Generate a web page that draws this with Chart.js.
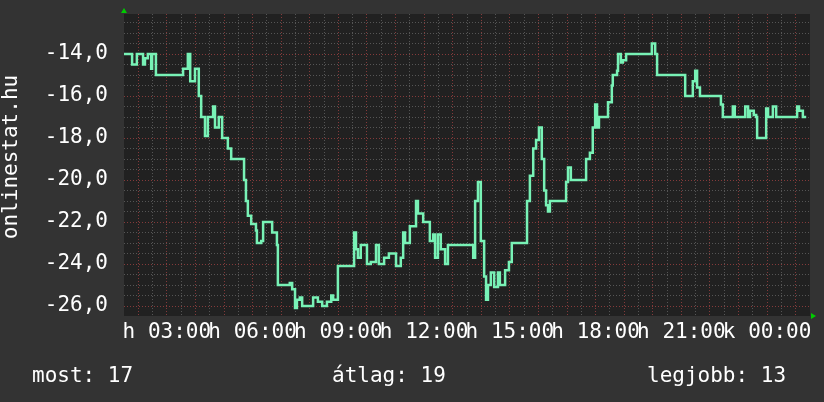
<!DOCTYPE html>
<html>
<head>
<meta charset="utf-8">
<script src="https://cdn.jsdelivr.net/npm/chart.js@4/dist/chart.umd.min.js"></script>
<style>
  html, body { margin: 0; padding: 0; background: #333333; }
  canvas { display: block; }
</style>
</head>
<body>
<canvas id="temp" width="824" height="402"></canvas>
<script>
// adatok: idő (perc az első nap éjfélétől) és hőmérséklet
const times = [90, 107, 117, 130, 134, 140, 147, 149, 157, 214, 224, 229, 239, 247, 252, 260, 266, 277, 281, 289,
  296, 308, 315, 342, 346, 350, 357, 367, 369, 378, 382, 401, 411, 413, 438, 443, 449, 453, 459, 464,
  487, 497, 506, 516, 525, 529, 539, 573, 577, 581, 587, 600, 608, 619, 625, 636, 646, 661, 671, 676,
  680, 690, 703, 707, 718, 732, 739, 743, 749, 755, 764, 770, 823, 827, 833, 839, 846, 850, 854, 860,
  867, 875, 879, 890, 898, 904, 936, 942, 949, 955, 961, 967, 972, 976, 980, 984, 1018, 1022, 1028, 1060,
  1068, 1074, 1079, 1083, 1087, 1106, 1114, 1116, 1125, 1127, 1133, 1137, 1144, 1198, 1205, 1209, 1268, 1284, 1289, 1293,
  1299, 1343, 1347, 1368, 1372, 1394, 1400, 1404, 1412, 1417, 1419, 1438, 1442, 1452, 1459, 1503, 1507, 1515, 1522];
const temps = [-14.0, -14.5, -14.0, -14.5, -14.2, -14.0, -14.7, -14.0, -15.0, -14.7, -14.0, -15.3, -14.7, -16.0, -17.0, -17.9, -17.0, -16.5, -17.5, -17.0,
  -18.0, -18.5, -19.0, -20.0, -21.0, -21.7, -22.1, -22.4, -23.0, -22.9, -22.0, -22.5, -23.1, -25.0, -24.9, -25.2, -26.1, -25.7, -25.6, -26.0,
  -25.6, -25.8, -26.0, -25.8, -25.5, -25.7, -24.1, -22.5, -23.3, -23.7, -23.1, -24.0, -23.9, -23.1, -24.0, -23.7, -23.5, -24.1, -23.7, -22.5,
  -23.0, -22.2, -21.0, -21.6, -22.0, -22.9, -22.6, -23.7, -22.6, -23.3, -24.0, -23.1, -23.7, -21.0, -20.1, -22.9, -24.6, -25.7, -25.0, -24.4,
  -25.1, -24.4, -25.0, -24.3, -23.9, -23.0, -21.0, -19.8, -18.5, -18.1, -17.5, -19.0, -20.5, -21.2, -21.5, -21.0, -20.1, -19.4, -20.0, -19.0,
  -18.7, -17.5, -16.4, -17.5, -17.0, -16.3, -15.5, -15.0, -14.8, -14.0, -14.4, -14.3, -14.0, -13.5, -14.0, -15.0, -16.0, -15.3, -14.8, -15.6,
  -16.0, -16.4, -17.0, -16.5, -17.0, -16.5, -17.0, -16.7, -16.9, -17.0, -18.0, -16.6, -17.0, -16.5, -17.0, -16.5, -16.7, -17.0, -17.0];

// tengelyfeliratok
const xLabelTimes = [180, 360, 540, 720, 900, 1080, 1260, 1440];
const xLabels = ['h 03:00', 'h 06:00', 'h 09:00', 'h 12:00', 'h 15:00', 'h 18:00', 'h 21:00', 'k 00:00'];
const yLabelValues = [-14, -16, -18, -20, -22, -24, -26];

// összesítés a grafikon alatt
const summaryNames = ['most', 'átlag', 'legjobb'];
const summaryValues = [17, 19, 13];

const FONT = 'DejaVu Sans Mono';
const minorGrid = '#555555';
const majorGrid = '#843a3a';

const rrdLook = {
  id: 'rrdLook',
  beforeDraw(chart) {
    const { ctx, chartArea: a } = chart;
    ctx.save();
    ctx.fillStyle = '#333333';
    ctx.fillRect(0, 0, chart.width, chart.height);
    ctx.fillStyle = '#212121';
    ctx.fillRect(a.left, a.top, a.right - a.left, a.bottom - a.top);
    ctx.restore();
  },
  afterDraw(chart) {
    const { ctx, chartArea: a } = chart;
    ctx.save();
    // nyilak
    ctx.fillStyle = '#00cc00';
    ctx.beginPath();
    ctx.moveTo(a.left - 3, a.top - 1);
    ctx.lineTo(a.left + 3, a.top - 1);
    ctx.lineTo(a.left, a.top - 6);
    ctx.fill();
    ctx.beginPath();
    ctx.moveTo(a.right + 1, a.bottom - 3);
    ctx.lineTo(a.right + 1, a.bottom + 3);
    ctx.lineTo(a.right + 6, a.bottom);
    ctx.fill();
    // függőleges cím
    ctx.fillStyle = '#ffffff';
    ctx.font = '21px "' + FONT + '"';
    ctx.translate(17, 157);
    ctx.rotate(-Math.PI / 2);
    ctx.textAlign = 'center';
    ctx.fillText('onlinestat.hu', 0, 0);
    ctx.restore();
    // összesítés
    ctx.save();
    ctx.fillStyle = '#ffffff';
    ctx.font = '21px "' + FONT + '"';
    const xs = [32, 332, 647];
    summaryNames.forEach((n, i) => {
      ctx.fillText(n + ': ' + summaryValues[i], xs[i], 382);
    });
    ctx.restore();
  }
};

const tempCtx = document.getElementById('temp').getContext('2d');
const tempChart = new Chart(tempCtx, {
  type: 'line',
  data: {
    datasets: [{
      data: times.map((t, i) => ({ x: t, y: temps[i] })),
      borderColor: '#78f2b6',
      borderWidth: 2.5,
      stepped: true,
      pointRadius: 0,
      fill: false
    }]
  },
  options: {
    responsive: false,
    animation: false,
    devicePixelRatio: 1,
    layout: { padding: { top: 14, right: 14, left: 0, bottom: 0 } },
    plugins: { legend: { display: false }, tooltip: { enabled: false } },
    scales: {
      x: {
        type: 'linear',
        min: 90,
        max: 1530,
        afterFit: (s) => { s.height = 86; s.paddingLeft = 0; s.paddingRight = 0; },
        afterBuildTicks: (s) => {
          const t = [];
          for (let v = 120; v <= 1500; v += 30) t.push({ value: v });
          s.ticks = t;
        },
        grid: {
          drawTicks: false,
          color: (c) => (c.tick && c.tick.value % 60 === 0 ? majorGrid : minorGrid)
        },
        border: { display: false, dash: [1, 2] },
        ticks: {
          autoSkip: false,
          maxRotation: 0,
          padding: 4,
          color: '#ffffff',
          font: { family: FONT, size: 21 },
          callback: (v) => {
            const i = xLabelTimes.indexOf(v);
            return i >= 0 ? xLabels[i] : '';
          }
        }
      },
      y: {
        min: -26.476,
        max: -12.095,
        afterFit: (s) => { s.width = 124; s.paddingTop = 0; s.paddingBottom = 0; },
        afterBuildTicks: (s) => {
          const t = [];
          for (let v = -26; v <= -12.5; v += 0.5) t.push({ value: v });
          s.ticks = t;
        },
        grid: {
          drawTicks: false,
          color: (c) => (c.tick && c.tick.value % 2 === 0 ? majorGrid : minorGrid)
        },
        border: { display: false, dash: [1, 2] },
        ticks: {
          autoSkip: false,
          padding: 16,
          color: '#ffffff',
          font: { family: FONT, size: 21 },
          callback: (v) => (yLabelValues.includes(v) ? v.toFixed(1).replace('.', ',') : '')
        }
      }
    }
  },
  plugins: [rrdLook]
});
</script>
</body>
</html>
